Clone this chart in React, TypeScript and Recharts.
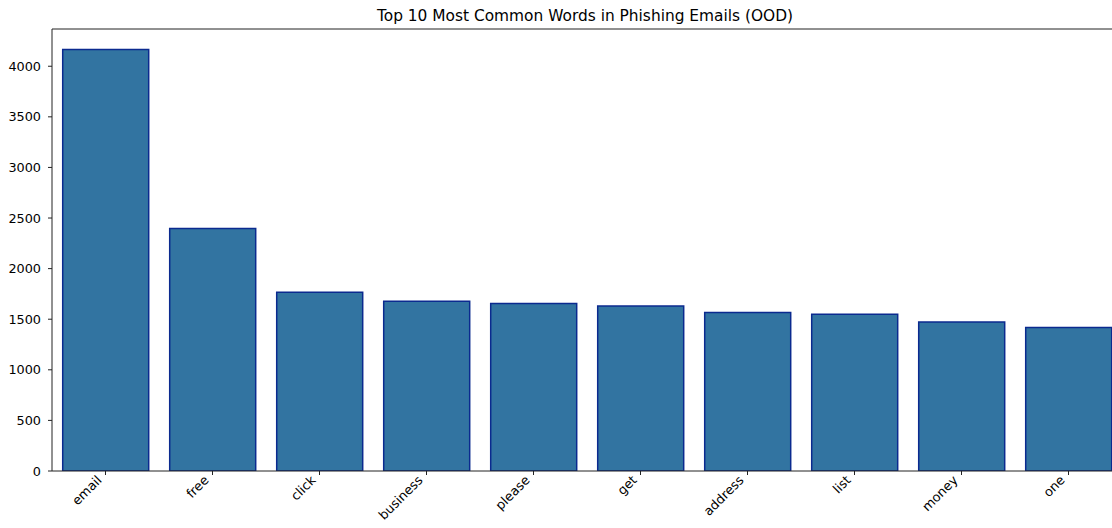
import React from "react";
import { BarChart, Bar, XAxis, YAxis, ReferenceLine } from "recharts";

const words = ["email", "free", "click", "business", "please", "get", "address", "list", "money", "one"];
const counts = [4165, 2396, 1766, 1677, 1655, 1631, 1566, 1549, 1473, 1417];
const yTicks = [0, 500, 1000, 1500, 2000, 2500, 3000, 3500, 4000];
const yMax = 4368;
const title = "Top 10 Most Common Words in Phishing Emails (OOD)";

const data = words.map((w, i) => ({ word: w, count: counts[i] }));

const FONT = "'DejaVu Sans', sans-serif";

const XTick = (props: any) => {
  const { x, y, payload } = props;
  return (
    <g transform={`translate(${x - 3},${y + 6})`}>
      <text
        x={0}
        y={0}
        textAnchor="end"
        transform="rotate(-45)"
        fontFamily={FONT}
        fontSize={12.8}
        fill="#000"
      >
        {payload.value}
      </text>
    </g>
  );
};

export default function App() {
  return (
    <div
      style={{
        position: "fixed",
        left: 0,
        top: 0,
        width: 1112,
        height: 528,
        overflow: "hidden",
        background: "#fff",
      }}
    >
      <BarChart
        width={1140}
        height={528}
        data={data}
        margin={{ top: 29, right: 18, bottom: 0, left: 0 }}
        barCategoryGap="10%"
      >
        <XAxis
          dataKey="word"
          interval={0}
          tick={<XTick />}
          tickSize={4}
          tickMargin={0}
          axisLine={{ stroke: "#222", strokeWidth: 1 }}
          tickLine={{ stroke: "#222", strokeWidth: 1 }}
          height={57}
        />
        <YAxis
          width={52}
          domain={[0, yMax]}
          ticks={yTicks}
          allowDataOverflow
          tickSize={4}
          tickMargin={7}
          axisLine={{ stroke: "#222", strokeWidth: 1 }}
          tickLine={{ stroke: "#222", strokeWidth: 1 }}
          tick={{ fontFamily: FONT, fontSize: 12.8, fill: "#000" }}
        />
        <ReferenceLine y={yMax} stroke="#222" strokeWidth={1} />
        <Bar
          dataKey="count"
          fill="#3274a1"
          stroke="#0b2a8f"
          strokeWidth={1.5}
          isAnimationActive={false}
        />
      </BarChart>
      <svg
        width={1112}
        height={28}
        style={{ position: "absolute", left: 0, top: 0 }}
      >
        <text
          x={585}
          y={20.5}
          textAnchor="middle"
          fontFamily={FONT}
          fontSize={15.4}
          fill="#000"
        >
          {title}
        </text>
      </svg>
    </div>
  );
}
